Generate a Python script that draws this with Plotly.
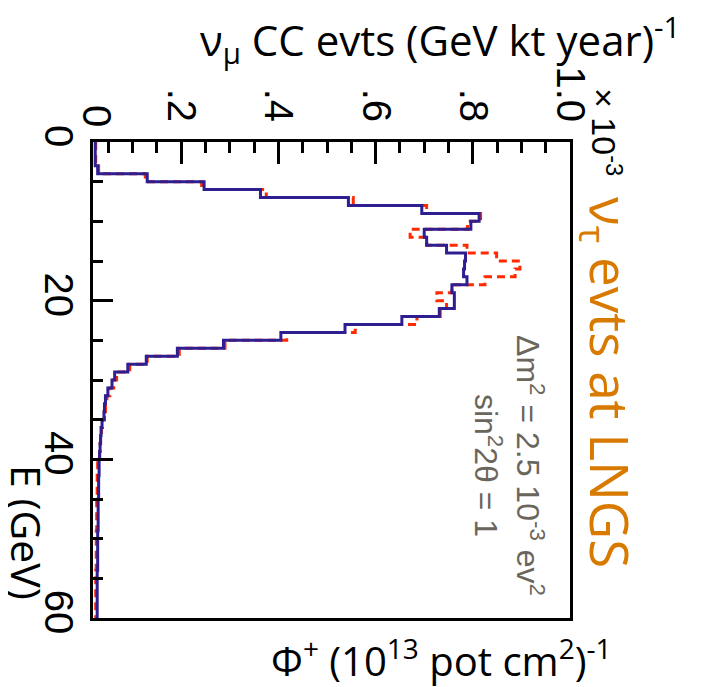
import plotly.graph_objects as go

# ---------------- data (1 GeV bins from 0 to 60 GeV) ----------------
E_EDGES = list(range(0, 61))

# solid (dark blue) histogram, units of 1e-3
numu_solid = [
    0.023, 0.023, 0.023, 0.028, 0.130, 0.247, 0.363, 0.544, 0.695, 0.813,
    0.796, 0.700, 0.705, 0.746, 0.785, 0.783, 0.781, 0.788, 0.757, 0.762,
    0.762, 0.731, 0.654, 0.537, 0.405, 0.287, 0.192, 0.128, 0.090, 0.063,
    0.0575, 0.049, 0.044, 0.042, 0.041, 0.037, 0.035, 0.034, 0.033, 0.032,
    0.031, 0.031, 0.030, 0.030, 0.030, 0.029, 0.029, 0.029, 0.029, 0.028,
    0.028, 0.028, 0.028, 0.028, 0.027, 0.027, 0.027, 0.027, 0.027, 0.027,
]

# dashed (red) histogram, units of 1e-3
numu_dashed = [
    0.024, 0.024, 0.024, 0.030, 0.126, 0.242, 0.375, 0.554, 0.705, 0.816,
    0.789, 0.671, 0.705, 0.788, 0.849, 0.897, 0.887, 0.825, 0.757, 0.726,
    0.746, 0.733, 0.685, 0.558, 0.417, 0.290, 0.196, 0.130, 0.094, 0.067,
    0.061, 0.053, 0.047, 0.044, 0.042, 0.038, 0.036, 0.034, 0.033, 0.032,
    0.028, 0.028, 0.027, 0.027, 0.027, 0.026, 0.026, 0.026, 0.026, 0.025,
    0.025, 0.025, 0.025, 0.025, 0.024, 0.024, 0.024, 0.024, 0.024, 0.024,
]

VAL_TICKS = [0.2, 0.4, 0.6, 0.8, 1.0]
VAL_TICKTEXT = [".2", ".4", ".6", ".8", "1.0"]
E_TICKS = [0, 20, 40, 60]

# ---------------- geometry ----------------
# the page body adds an 8 px margin, so the figure is drawn 8 px smaller
# and all screen positions are shifted by 8 px
OFF = 8
W, H = 704 - OFF, 687 - OFF
PL, PR, PT, PB = 93 - OFF, 570 - OFF, 142 - OFF, 618 - OFF


def px(x, y):
    x -= OFF
    y -= OFF
    return (x - PL) / (PR - PL), (PB - y) / (PB - PT)


def step(vals, edges):
    return list(vals) + [vals[-1]], list(edges)


fig = go.Figure()

xr, yr = step(numu_dashed, E_EDGES)
fig.add_trace(go.Scatter(x=xr, y=yr, mode="lines", line_shape="vh",
                         line=dict(color="#ff2a00", width=3, dash="8px,5px"),
                         showlegend=False, hoverinfo="skip"))
xb, yb = step(numu_solid, E_EDGES)
fig.add_trace(go.Scatter(x=xb, y=yb, mode="lines", line_shape="vh",
                         line=dict(color="#2d1e91", width=3),
                         showlegend=False, hoverinfo="skip"))

TICKFONT = dict(family="Liberation Sans, Arial", size=40, color="black")
TITLEFONT = "Open Sans, DejaVu Sans"

minor_x = [round(0.05 * k, 2) for k in range(1, 20) if k % 4 != 0]
minor_y = [v for v in range(5, 60, 5) if v % 20 != 0]

fig.update_layout(
    width=W, height=H,
    margin=dict(l=PL, r=W - PR, t=PT, b=H - PB, pad=0),
    paper_bgcolor="white", plot_bgcolor="white",
    xaxis=dict(range=[0.0184, 1.0], side="top", showgrid=False, zeroline=False,
               automargin=False,
               showline=True, linewidth=3, linecolor="black", mirror=True,
               ticks="inside", ticklen=22, tickwidth=2.5, tickcolor="black",
               tickmode="array", tickvals=VAL_TICKS, ticktext=VAL_TICKTEXT,
               tickangle=90, tickfont=TICKFONT, ticklabelstandoff=3,
               minor=dict(tickmode="array", tickvals=minor_x, ticks="inside",
                          ticklen=11, tickwidth=2.5, tickcolor="black")),
    yaxis=dict(range=[60, 0], showgrid=False, zeroline=False,
               automargin=False,
               showline=True, linewidth=3, linecolor="black", mirror=True,
               ticks="inside", ticklen=20, tickwidth=2.5, tickcolor="black",
               tickmode="array", tickvals=E_TICKS,
               tickangle=90, tickfont=TICKFONT, ticklabelstandoff=-3,
               minor=dict(tickmode="array", tickvals=minor_y, ticks="inside",
                          ticklen=10, tickwidth=2.5, tickcolor="black")),
)

annots = []


def add(text, x, y, size, color="black", family=TITLEFONT, angle=0):
    ax, ay = px(x, y)
    annots.append(dict(text=text, x=ax, y=ay, xref="paper", yref="paper",
                       xanchor="center", yanchor="middle", showarrow=False,
                       textangle=angle, font=dict(family=family, size=size, color=color)))


add("ν<sub>μ</sub> CC evts (GeV kt year)<sup>-1</sup>", 440, 40, 42)
add("Φ<sup>+</sup> (10<sup>13</sup> pot cm<sup>2</sup>)<sup>-1</sup>", 441, 658, 40)
add("E (GeV)", 27, 532, 41, angle=90)
add("0", 97, 116, 40, family="Liberation Sans, Arial", angle=90)
add("× 10<sup>-3</sup>", 607, 132, 34, family="Liberation Sans, Arial", angle=90)
add("ν<sub>τ</sub> evts at LNGS", 608, 382, 53, color="#d87a00", angle=90)
add("Δm<sup>2</sup> = 2.5 10<sup>-3</sup> ev<sup>2</sup><br>sin<sup>2</sup>2θ = 1",
    509, 465, 32, color="#6b665c", family="Liberation Sans, Arial", angle=90)

fig.update_layout(annotations=annots)
fig.write_html("out.html")
